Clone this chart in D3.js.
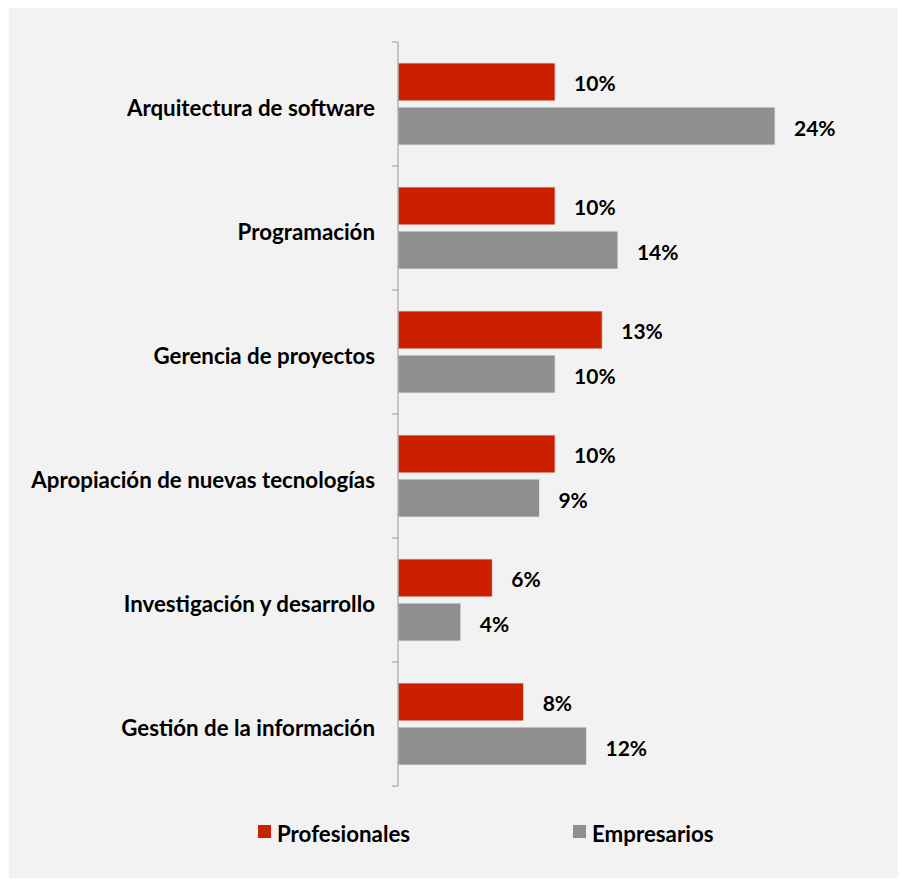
<!DOCTYPE html>
<html><head><meta charset="utf-8">
<script src="https://cdn.jsdelivr.net/npm/d3@7"></script>
<style>html,body{margin:0;padding:0;background:#fff}svg{display:block}text{font-family:Lato,"Open Sans",sans-serif;font-weight:700;fill:#000}</style>
</head><body>
<script>
const categories = ["Arquitectura de software","Programación","Gerencia de proyectos","Apropiación de nuevas tecnologías","Investigación y desarrollo","Gestión de la información"];
const seriesNames = ["Profesionales","Empresarios"];
const profesionales = [0.10,0.10,0.13,0.10,0.06,0.08];
const empresarios = [0.24,0.14,0.10,0.09,0.04,0.12];
const seriesColors = ["#CC1F00","#8F8F8F"];

const W=906,H=886;
const svg=d3.select("body").append("svg").attr("width",W).attr("height",H);
svg.append("rect").attr("x",9).attr("y",8).attr("width",889).attr("height",870).attr("fill","#F2F2F2");

const y=d3.scaleBand().domain(categories).range([42,786]).padding(0);
const yi=d3.scaleBand().domain(seriesNames).range([21,103]).paddingInner(0.14);
const x=d3.scaleLinear().domain([0,0.24]).range([398,775]);
const fmt=d3.format(".0%");

const data=categories.map((c,i)=>({cat:c,vals:[profesionales[i],empresarios[i]]}));
const g=svg.append("g");
data.forEach(d=>{
  d.vals.forEach((v,j)=>{
    const yy=y(d.cat)+yi(seriesNames[j]);
    g.append("rect").attr("x",x(0)).attr("y",yy).attr("width",x(v)-x(0)).attr("height",yi.bandwidth())
      .attr("fill",seriesColors[j]).attr("stroke","#e8e8e8").attr("stroke-width",0.8);
    g.append("text").attr("x",x(v)+19).attr("y",yy+yi.bandwidth()/2+9.5).attr("font-size",21).text(fmt(v));
  });
});

const axis=d3.axisLeft(y).tickSize(0).tickPadding(23);
const ag=svg.append("g").attr("transform","translate(398,0)").call(axis);
ag.select(".domain").remove();
ag.selectAll("text").attr("font-size",22.3).attr("dy",null).attr("dominant-baseline",null).attr("y",11.5).attr("font-family",'Lato,"Open Sans",sans-serif').attr("font-weight",700).attr("fill","#000");
const bounds=categories.map(c=>y(c)).concat([y.range()[1]]);
svg.append("line").attr("x1",398).attr("x2",398).attr("y1",42).attr("y2",786).attr("stroke","#A6A6A6").attr("stroke-width",1.2);
svg.selectAll(".tk").data(bounds).enter().append("line").attr("x1",392).attr("x2",398).attr("y1",d=>d).attr("y2",d=>d).attr("stroke","#A6A6A6").attr("stroke-width",1.2);

const lx=[258,573];
seriesNames.forEach((s,j)=>{
  svg.append("rect").attr("x",lx[j]).attr("y",825).attr("width",13).attr("height",13).attr("fill",seriesColors[j]);
  svg.append("text").attr("x",lx[j]+19).attr("y",842).attr("font-size",22.3).text(s);
});
</script>
</body></html>
